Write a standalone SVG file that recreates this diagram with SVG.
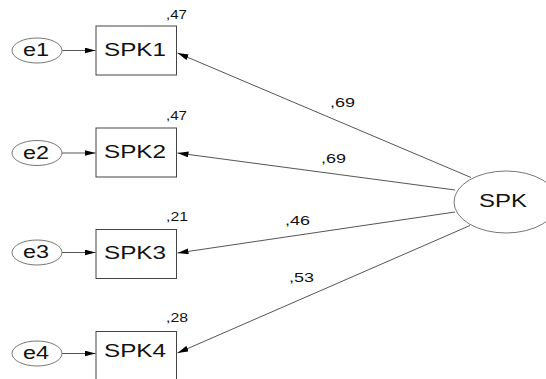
<svg xmlns="http://www.w3.org/2000/svg" width="546" height="379" viewBox="0 0 546 379">
<defs>
<style>
.box{fill:#fff;stroke:#444;stroke-width:1}
.ell{fill:#fff;stroke:#777;stroke-width:1}
.ln{stroke:#555;stroke-width:1;fill:none;marker-end:url(#ah)}
.t{font-family:"Liberation Sans",Arial,sans-serif;fill:#111}
.big{font-size:17.5px}
.sm{font-size:13.5px}
</style>
<marker id="ah" viewBox="0 0 11 6" refX="11" refY="3" markerWidth="11" markerHeight="6" markerUnits="userSpaceOnUse" orient="auto">
<path d="M0,0 L11,3 L0,6 Z" fill="#000"/>
</marker>
</defs>
<rect width="546" height="379" fill="#fff"/>
<g id="connectors">
<line class="ln" x1="62" y1="50.5" x2="95.5" y2="50.5"/>
<line class="ln" x1="62" y1="153" x2="95.5" y2="153"/>
<line class="ln" x1="62" y1="252.5" x2="95.5" y2="252.5"/>
<line class="ln" x1="62" y1="353.5" x2="95.5" y2="353.5"/>
<line class="ln" x1="471" y1="177.5" x2="177.5" y2="53"/>
<line class="ln" x1="455" y1="190" x2="177.5" y2="153"/>
<line class="ln" x1="455" y1="212" x2="177.5" y2="253"/>
<line class="ln" x1="470" y1="225.5" x2="177.5" y2="353"/>
<text class="t sm" x="330" y="106.5" textLength="25" lengthAdjust="spacingAndGlyphs">,69</text>
<text class="t sm" x="321" y="162.5" textLength="25" lengthAdjust="spacingAndGlyphs">,69</text>
<text class="t sm" x="285" y="225" textLength="25" lengthAdjust="spacingAndGlyphs">,46</text>
<text class="t sm" x="289" y="282" textLength="25" lengthAdjust="spacingAndGlyphs">,53</text>
</g>
<g id="SPK">
<ellipse class="ell" cx="506" cy="202" rx="52" ry="31"/>
<text class="t big" x="503" y="206.5" text-anchor="middle" textLength="48" lengthAdjust="spacingAndGlyphs">SPK</text>
</g>
<g id="e1">
<ellipse class="ell" cx="37" cy="50.5" rx="25" ry="12.5"/>
<text class="t big" x="36" y="56" text-anchor="middle" textLength="26" lengthAdjust="spacingAndGlyphs">e1</text>
</g>
<g id="e2">
<ellipse class="ell" cx="37" cy="153" rx="25" ry="12.5"/>
<text class="t big" x="36" y="158.5" text-anchor="middle" textLength="26" lengthAdjust="spacingAndGlyphs">e2</text>
</g>
<g id="e3">
<ellipse class="ell" cx="37" cy="252.5" rx="25" ry="12.5"/>
<text class="t big" x="36" y="258" text-anchor="middle" textLength="26" lengthAdjust="spacingAndGlyphs">e3</text>
</g>
<g id="e4">
<ellipse class="ell" cx="37" cy="353.5" rx="25" ry="12.5"/>
<text class="t big" x="36" y="359" text-anchor="middle" textLength="26" lengthAdjust="spacingAndGlyphs">e4</text>
</g>
<g id="SPK1">
<rect class="box" x="96" y="26" width="80.5" height="49"/>
<text class="t big" x="135" y="56" text-anchor="middle" textLength="62" lengthAdjust="spacingAndGlyphs">SPK1</text>
<text class="t sm" x="166" y="19" textLength="21" lengthAdjust="spacingAndGlyphs">,47</text>
</g>
<g id="SPK2">
<rect class="box" x="96" y="128" width="80.5" height="49"/>
<text class="t big" x="135" y="157.5" text-anchor="middle" textLength="62" lengthAdjust="spacingAndGlyphs">SPK2</text>
<text class="t sm" x="166" y="120" textLength="21" lengthAdjust="spacingAndGlyphs">,47</text>
</g>
<g id="SPK3">
<rect class="box" x="96" y="229.5" width="80.5" height="49"/>
<text class="t big" x="135" y="258.5" text-anchor="middle" textLength="62" lengthAdjust="spacingAndGlyphs">SPK3</text>
<text class="t sm" x="166" y="221" textLength="22" lengthAdjust="spacingAndGlyphs">,21</text>
</g>
<g id="SPK4">
<rect class="box" x="96" y="331.5" width="80.5" height="60"/>
<text class="t big" x="135" y="357" text-anchor="middle" textLength="62" lengthAdjust="spacingAndGlyphs">SPK4</text>
<text class="t sm" x="166" y="322" textLength="22" lengthAdjust="spacingAndGlyphs">,28</text>
</g>
</svg>
